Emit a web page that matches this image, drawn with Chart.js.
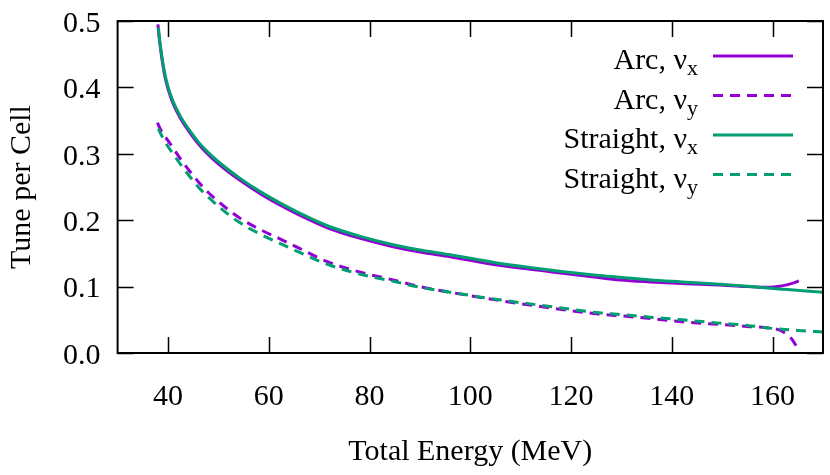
<!DOCTYPE html>
<html>
<head>
<meta charset="utf-8">
<script src="https://cdn.jsdelivr.net/npm/chart.js@4/dist/chart.umd.min.js"></script>
<style>
  html, body { margin: 0; padding: 0; background: #fff; }
  #wrap { width: 830px; height: 475px; }
</style>
</head>
<body>
<div id="wrap"><canvas id="tuneChart"></canvas></div>
<script>
// tick values
const energyTicks = [40, 60, 80, 100, 120, 140, 160];
const tuneTicks = [0, 0.1, 0.2, 0.3, 0.4, 0.5];

// Arc cell
const arcEnergy = [38.0, 38.2, 38.4, 38.8, 39.4, 40.0, 41.0, 42.5, 44.4, 46.0, 47.7, 50.0, 54.3, 58.3, 62.2, 66.0, 71.5, 78.0, 84.7, 90.0, 96.0, 105.0, 115.8, 125.0, 129.7, 135.7, 142.0, 149.5, 155.0, 157.5, 159.5, 161.4, 163.0, 164.2, 165.2];
const arcNuX = [0.495, 0.478, 0.466, 0.443, 0.416, 0.398, 0.376, 0.353, 0.331, 0.315, 0.301, 0.285, 0.260, 0.240, 0.223, 0.208, 0.189, 0.173, 0.160, 0.152, 0.145, 0.133, 0.1225, 0.114, 0.110, 0.107, 0.1045, 0.1024, 0.1000, 0.0990, 0.0990, 0.1005, 0.1030, 0.1055, 0.1085];

const arcEnergyY = [37.9, 38.3, 39.0, 40.0, 41.0, 42.5, 44.4, 46.0, 47.7, 50.0, 54.3, 58.3, 62.2, 66.0, 71.5, 78.0, 84.7, 90.0, 96.0, 105.0, 115.8, 125.0, 129.7, 135.7, 142.0, 149.5, 155.0, 159.5, 161.5, 162.8, 163.8, 164.5, 164.9, 165.2];
const arcNuY = [0.347, 0.340, 0.330, 0.320, 0.309, 0.292, 0.273, 0.258, 0.244, 0.228, 0.203, 0.186, 0.172, 0.158, 0.138, 0.122, 0.110, 0.100, 0.0915, 0.080, 0.068, 0.059, 0.056, 0.052, 0.047, 0.043, 0.040, 0.0375, 0.034, 0.028, 0.021, 0.013, 0.008, 0.003];

// Straight cell
const straightEnergy = [38.1, 38.3, 38.5, 38.9, 39.5, 40.0, 41.0, 42.5, 44.4, 46.0, 47.7, 50.0, 54.3, 58.3, 62.2, 66.0, 71.5, 78.0, 84.7, 90.0, 96.0, 105.0, 115.8, 125.0, 129.7, 135.7, 142.0, 149.5, 155.0, 159.5, 163.0, 166.0, 170.0];
const straightNuX = [0.490, 0.475, 0.462, 0.441, 0.416, 0.401, 0.379, 0.356, 0.334, 0.318, 0.304, 0.288, 0.263, 0.243, 0.226, 0.211, 0.192, 0.176, 0.163, 0.155, 0.148, 0.136, 0.125, 0.117, 0.114, 0.110, 0.107, 0.1035, 0.1005, 0.0975, 0.0955, 0.0938, 0.0914];

const straightEnergyY = [38.1, 38.5, 39.0, 40.0, 41.0, 42.5, 44.4, 46.0, 47.7, 50.0, 54.3, 58.3, 62.2, 66.0, 71.5, 78.0, 84.7, 90.0, 96.0, 105.0, 115.8, 125.0, 129.7, 135.7, 142.0, 149.5, 155.0, 160.0, 165.0, 170.0];
const straightNuY = [0.338, 0.331, 0.324, 0.311, 0.300, 0.284, 0.265, 0.250, 0.237, 0.221, 0.196, 0.179, 0.165, 0.152, 0.134, 0.119, 0.108, 0.099, 0.0915, 0.081, 0.070, 0.061, 0.058, 0.054, 0.050, 0.045, 0.0415, 0.037, 0.034, 0.0315];

const seriesNames = ["Arc", "Arc", "Straight", "Straight"];
const planes = ["x", "y", "x", "y"];

const PURPLE = "#9400d3";
const GREEN = "#009e73";
const FONT = "'Liberation Serif', 'DejaVu Serif', serif";

function toPoints(xs, ys) {
    return xs.map((x, i) => ({ x: x, y: ys[i] }));
}

function makeSet(idx, xs, ys, color, dashed, order) {
    return {
        label: seriesNames[idx] + ", ν" + planes[idx],
        data: toPoints(xs, ys),
        borderColor: color,
        borderWidth: 3,
        borderDash: dashed ? [10, 7] : [],
        pointRadius: 0,
        cubicInterpolationMode: "monotone",
        fill: false,
        order: order
    };
}

// border, inward ticks on all four sides, and the legend
const framePlugin = {
    id: "frame",
    afterDatasetsDraw(chart) {
        const ctx = chart.ctx;
        const a = chart.chartArea;
        const xs = chart.scales.x;
        const ys = chart.scales.y;
        const tl = 16;
        ctx.save();
        ctx.strokeStyle = "#000";
        ctx.lineWidth = 1.5;
        ctx.beginPath();
        energyTicks.forEach(v => {
            const px = Math.round(xs.getPixelForValue(v)) + 0.5;
            ctx.moveTo(px, a.bottom); ctx.lineTo(px, a.bottom - tl);
            ctx.moveTo(px, a.top); ctx.lineTo(px, a.top + tl);
        });
        tuneTicks.forEach(v => {
            const py = Math.round(ys.getPixelForValue(v)) + 0.5;
            ctx.moveTo(a.left, py); ctx.lineTo(a.left + tl, py);
            ctx.moveTo(a.right, py); ctx.lineTo(a.right - tl, py);
        });
        ctx.stroke();
        ctx.lineWidth = 2;
        ctx.strokeRect(a.left, a.top, a.right - a.left, a.bottom - a.top);

        // legend, top right inside the plot
        const textRight = 698, lineL = 713, lineR = 793;
        chart.data.datasets.forEach((ds, i) => {
            const rowY = 56 + i * 39.5;
            ctx.font = "22px " + FONT;
            const subW = ctx.measureText(planes[i]).width;
            ctx.fillStyle = "#000";
            ctx.textAlign = "left";
            ctx.textBaseline = "alphabetic";
            ctx.fillText(planes[i], textRight - subW, rowY + 19);
            ctx.font = "30px " + FONT;
            ctx.textAlign = "right";
            ctx.fillText(seriesNames[i] + ", ν", textRight - subW, rowY + 13);

            ctx.strokeStyle = ds.borderColor;
            ctx.lineWidth = 3;
            ctx.setLineDash(ds.borderDash);
            ctx.beginPath();
            ctx.moveTo(lineL, rowY);
            ctx.lineTo(lineR, rowY);
            ctx.stroke();
            ctx.setLineDash([]);
        });
        ctx.restore();
    }
};

const ctx = document.getElementById("tuneChart").getContext("2d");
new Chart(ctx, {
    type: "line",
    data: {
        datasets: [
            makeSet(0, arcEnergy, arcNuX, PURPLE, false, 4),
            makeSet(1, arcEnergyY, arcNuY, PURPLE, true, 3),
            makeSet(2, straightEnergy, straightNuX, GREEN, false, 2),
            makeSet(3, straightEnergyY, straightNuY, GREEN, true, 1)
        ]
    },
    options: {
        responsive: true,
        maintainAspectRatio: false,
        animation: false,
        layout: { padding: { top: 21, right: 7, left: 0, bottom: 0 } },
        plugins: {
            legend: { display: false },
            tooltip: { enabled: false }
        },
        scales: {
            x: {
                type: "linear",
                min: 30,
                max: 170,
                grid: { display: false, drawTicks: false },
                border: { display: false },
                afterBuildTicks: s => { s.ticks = energyTicks.map(v => ({ value: v })); },
                afterFit: s => { s.height = 122; },
                ticks: {
                    color: "#000",
                    padding: 26,
                    maxRotation: 0,
                    font: { family: FONT, size: 30 }
                },
                title: {
                    display: true,
                    text: "Total Energy (MeV)",
                    color: "#000",
                    font: { family: FONT, size: 30 },
                    padding: { top: 0, bottom: 5 }
                }
            },
            y: {
                min: 0,
                max: 0.5,
                grid: { display: false, drawTicks: false },
                border: { display: false },
                afterBuildTicks: s => { s.ticks = tuneTicks.map(v => ({ value: v })); },
                afterFit: s => {
                    s.width = 117.6;
                    // the labels overflow the top; let the layout padding decide
                    s.paddingTop = 0;
                    s.paddingBottom = 0;
                },
                ticks: {
                    color: "#000",
                    padding: 17,
                    labelOffset: 3,
                    font: { family: FONT, size: 30 },
                    callback: v => v.toFixed(1)
                },
                title: {
                    display: true,
                    text: "Tune per Cell",
                    color: "#000",
                    font: { family: FONT, size: 30 },
                    padding: { top: 4, bottom: 0 }
                }
            }
        }
    },
    plugins: [framePlugin]
});
</script>
</body>
</html>
